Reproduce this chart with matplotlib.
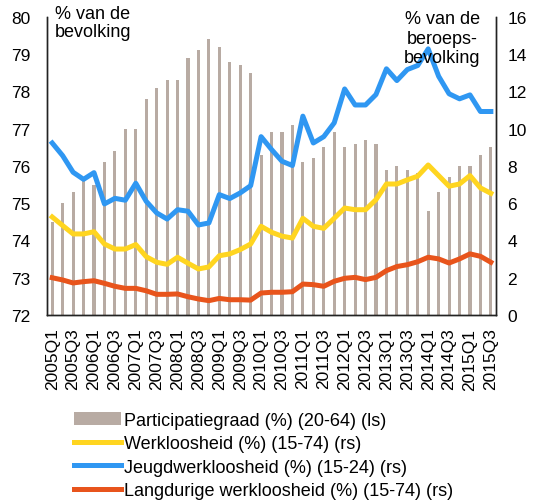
import matplotlib.pyplot as plt
import numpy as np

plt.rcParams['font.family'] = ['Liberation Sans', 'DejaVu Sans']

# quarters 2005Q1 .. 2015Q3
quarters = [f'{y}Q{q}' for y in range(2005, 2016) for q in range(1, 5)][:43]

# participation rate (left axis)
participatie = [74.5, 75.0, 75.3, 75.6, 75.5, 76.1, 76.4, 77.0, 77.0, 77.8,
                78.1, 78.3, 78.3, 78.9, 79.1, 79.4, 79.2, 78.8, 78.7, 78.5,
                76.3, 76.9, 76.9, 77.1, 76.1, 76.2, 76.5, 76.9, 76.5, 76.6,
                76.7, 76.6, 75.9, 76.0, 75.9, 75.8, 74.8, 75.3, 75.7, 76.0,
                76.0, 76.3, 76.5]

# unemployment series (right axis)
werkloosheid = [5.26, 4.80, 4.35, 4.35, 4.47, 3.81, 3.54, 3.54, 3.78, 3.13,
                2.83, 2.72, 3.10, 2.78, 2.47, 2.58, 3.18, 3.28, 3.51, 3.81,
                4.76, 4.44, 4.23, 4.13, 5.19, 4.76, 4.65, 5.19, 5.74, 5.65,
                5.65, 6.19, 7.03, 7.03, 7.25, 7.45, 8.05, 7.48, 6.91, 7.03,
                7.48, 6.82, 6.53]
jeugd = [9.23, 8.55, 7.66, 7.28, 7.64, 5.96, 6.26, 6.16, 7.07, 6.10,
         5.48, 5.15, 5.65, 5.57, 4.83, 4.94, 6.46, 6.25, 6.55, 6.94,
         9.57, 8.88, 8.25, 8.02, 10.67, 9.23, 9.57, 10.31, 12.13, 11.27,
         11.27, 11.83, 13.21, 12.58, 13.17, 13.39, 14.28, 12.81, 11.87, 11.60,
         11.81, 10.92, 10.92]
langdurig = [2.00, 1.88, 1.72, 1.79, 1.84, 1.70, 1.54, 1.43, 1.43, 1.30,
             1.11, 1.11, 1.13, 0.98, 0.86, 0.77, 0.89, 0.82, 0.82, 0.80,
             1.18, 1.22, 1.22, 1.25, 1.66, 1.63, 1.54, 1.81, 1.97, 2.02,
             1.90, 2.02, 2.38, 2.60, 2.70, 2.86, 3.10, 3.01, 2.79, 3.01,
             3.28, 3.15, 2.83]

x = np.arange(len(quarters))

fig = plt.figure(figsize=(5.34, 5.02), dpi=100)
ax = fig.add_axes([0.088, 0.3705, 0.841, 0.594])
ax2 = ax.twinx()

bars = ax.bar(x, np.array(participatie) - 72, bottom=72, width=0.3,
              color='#B8ABA3', label='Participatiegraad (%) (20-64) (ls)')
l1, = ax2.plot(x, werkloosheid, color='#FFD520', lw=3.6,
               label='Werkloosheid (%) (15-74) (rs)')
l2, = ax2.plot(x, jeugd, color='#2F97F2', lw=3.6,
               label='Jeugdwerkloosheid (%) (15-24) (rs)')
l3, = ax2.plot(x, langdurig, color='#E8541C', lw=3.6,
               label='Langdurige werkloosheid (%) (15-74) (rs)')

ax.set_xlim(-0.5, 42.5)
ax.set_ylim(72, 80)
ax2.set_ylim(0, 16)
ax.set_yticks(range(72, 81))
ax2.set_yticks(range(0, 17, 2))
ax.set_xticks(x[::2])
ax.set_xticklabels(quarters[::2], rotation=90)

for a in (ax, ax2):
    a.spines['top'].set_visible(False)
    for s in a.spines.values():
        s.set_linewidth(1.0)
        s.set_color('#222222')
ax.tick_params(axis='y', length=0, pad=12, labelsize=12.5)
ax.tick_params(axis='x', length=0, pad=9, labelsize=12.5)
ax2.tick_params(axis='y', length=0, pad=8, labelsize=12.5)

# axis unit notes
fig.text(0.103, 0.988, '% van de\nbevolking', fontsize=13,
         ha='left', va='top', linespacing=1.1)
fig.text(0.828, 0.978, '% van de\nberoeps-\nbevolking', fontsize=13,
         ha='center', va='top', linespacing=1.2)

fig.legend(handles=[bars, l1, l2, l3], loc='upper left',
           bbox_to_anchor=(0.138, 0.178), frameon=False, fontsize=13,
           handlelength=2.6, handletextpad=0.2, labelspacing=0.36,
           borderpad=0, borderaxespad=0)

fig.savefig('out.png', dpi=100)
